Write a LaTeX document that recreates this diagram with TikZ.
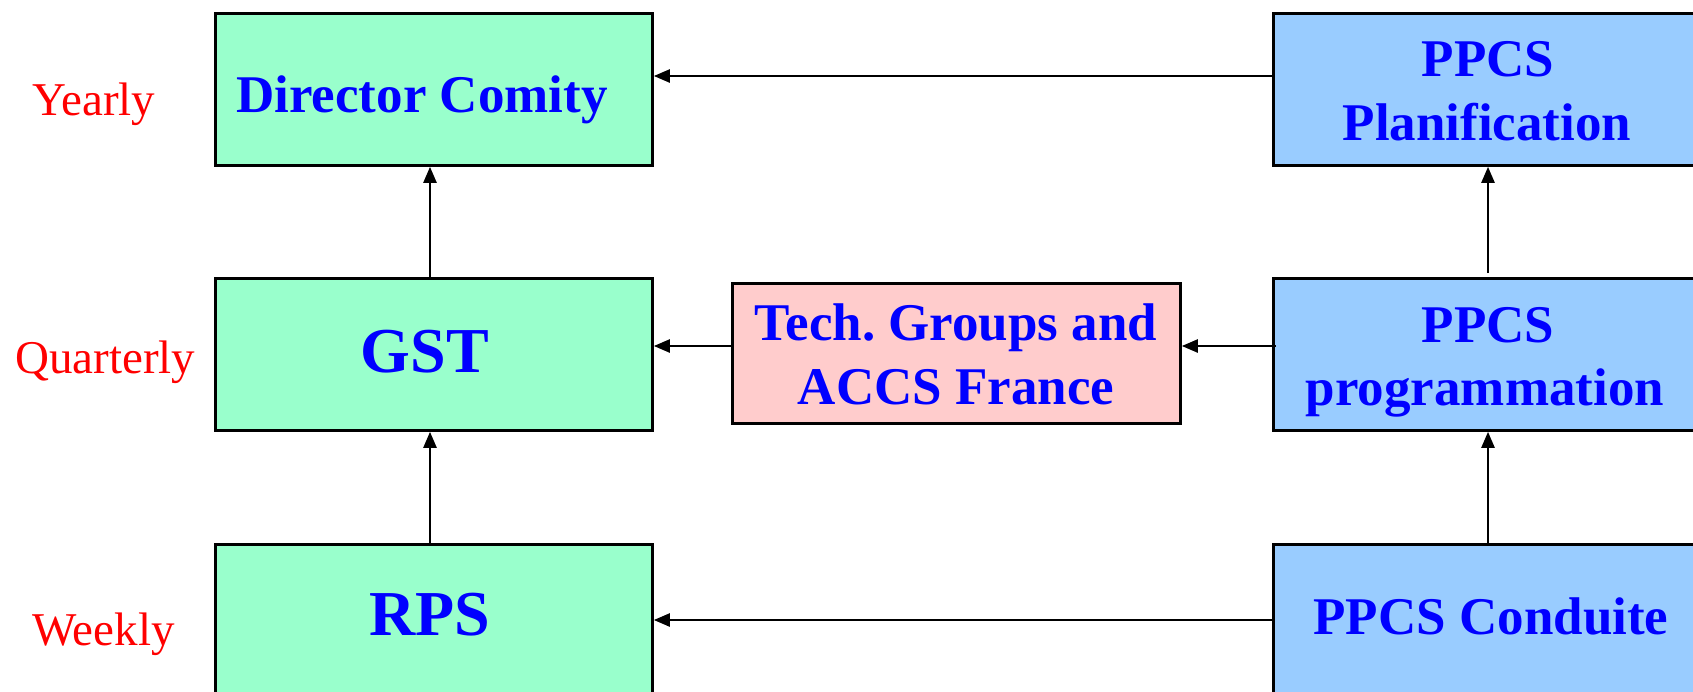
\documentclass[tikz,border=0pt]{standalone}
\usepackage{fontspec}
\setmainfont{Liberation Serif}
\usetikzlibrary{arrows.meta}
\definecolor{gfill}{HTML}{99FFCC}
\definecolor{bfill}{HTML}{99CCFF}
\definecolor{pfill}{HTML}{FFCCCC}
\definecolor{tblue}{HTML}{0000FF}
\definecolor{tred}{HTML}{FF0000}
\tikzset{
  box/.style={draw=black, line width=2.8pt, rectangle, anchor=north west, inner sep=0pt},
  gbox/.style={box, fill=gfill, minimum width=437pt, minimum height=152pt},
  bbox/.style={box, fill=bfill, minimum width=520pt, minimum height=152pt},
  pbox/.style={box, fill=pfill, minimum width=448pt, minimum height=140pt},
  lbl/.style={text=tblue, font=\fontsize{53}{64}\selectfont\bfseries, inner sep=0pt, anchor=base, align=center},
  big/.style={text=tblue, font=\fontsize{64}{70}\selectfont\bfseries, inner sep=0pt, anchor=base},
  freq/.style={text=tred, font=\fontsize{47}{56}\selectfont, inner sep=0pt, anchor=base west},
  arr/.style={draw=black, line width=2.4pt, -{Triangle[length=16pt,width=13pt]}}
}
\begin{document}
\begin{tikzpicture}[x=1pt,y=-1pt]
\clip (0,0) rectangle (1693,691);
\fill[white] (0,0) rectangle (1693,691);
\coordinate (xl) at (430,0);
\coordinate (xr) at (1488,0);
% boxes
\node[gbox] (dc) at (214,12) {};
\node[gbox] (gst) at (214,277) {};
\node[gbox, minimum height=200pt] (rps) at (214,543) {};
\node[bbox] (pplan) at (1272,12) {};
\node[bbox] (pprog) at (1272,277) {};
\node[bbox, minimum height=200pt] (pcond) at (1272,543) {};
\node[pbox] (tech) at (731,282) {};
% texts
\node[lbl] (tdc) at (422,112) {Director Comity};
\node[big] (tgst) at (425,372) {GST};
\node[big] (trps) at (430,635) {RPS};
\node[lbl] (tplan1) at (1488,76) {PPCS};
\node[lbl] (tplan2) at (1487,140) {Planification};
\node[lbl] (tprog1) at (1488,342) {PPCS};
\node[lbl] (tprog2) at (1485,405) {programmation};
\node[lbl] (tcond) at (1491,634) {PPCS Conduite};
\node[lbl] (ttech1) at (956,340) {Tech.\ Groups and};
\node[lbl] (ttech2) at (956,404) {ACCS France};
\node[freq] (yearly) at (32,115) {Yearly};
\node[freq] (quarterly) at (15,373) {Quarterly};
\node[freq] (weekly) at (32,645) {Weekly};
% connectors
\draw[arr] (pplan.west |- 0,76) -- (dc.east |- 0,76);
\draw[arr] (gst.north -| xl) -- (dc.south -| xl);
\draw[arr] (rps.north -| xl) -- (gst.south -| xl);
\draw[arr] ([yshift=4pt]pprog.north -| xr) -- (pplan.south -| xr);
\draw[arr] ([yshift=-2pt]pcond.north -| xr) -- (pprog.south -| xr);
\draw[arr] (tech.west |- 0,346) -- (gst.east |- 0,346);
\draw[arr] ([xshift=4pt]pprog.west |- 0,346) -- (tech.east |- 0,346);
\draw[arr] (pcond.west |- 0,620) -- (rps.east |- 0,620);
\end{tikzpicture}
\end{document}
